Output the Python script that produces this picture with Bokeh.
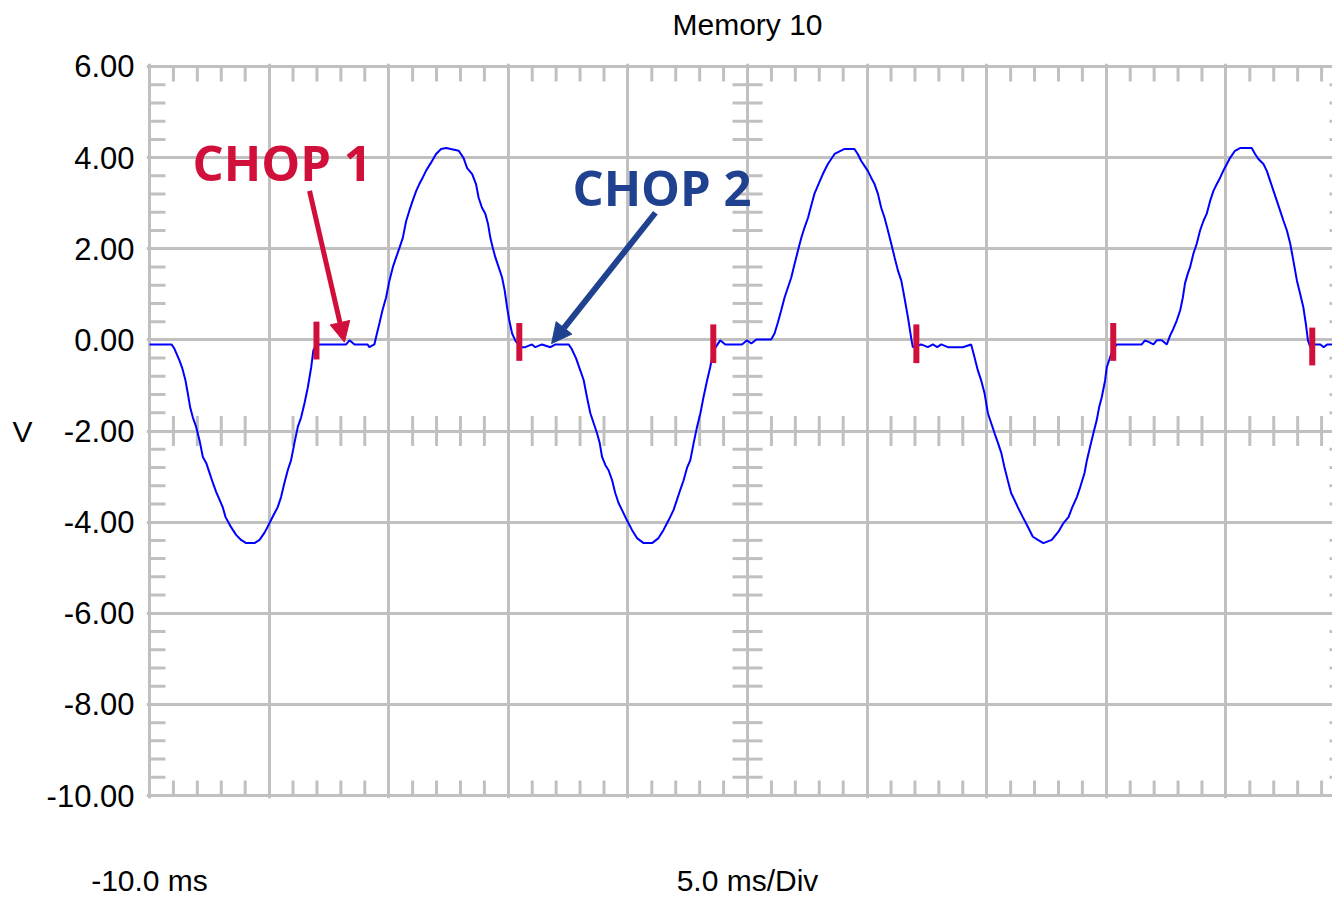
from bokeh.plotting import figure
from bokeh.models import (Range1d, FixedTicker, PrintfTickFormatter, Grid, Label,
                          Arrow, NormalHead, LinearAxis)
from bokeh.embed import file_html
from bokeh.resources import INLINE

# ---------------- data (ms, V) ----------------
time_a = [-10.00, -9.08, -8.96, -8.75, -8.63, -8.50, -8.40, -8.30, -8.19, -8.05,
          -7.91, -7.77, -7.63, -7.49, -7.35, -7.21, -7.07, -6.94, -6.82, -6.59,
          -6.38, -6.17, -5.96, -5.61, -5.40, -5.19, -5.06, -4.85, -4.64, -4.50,
          -4.36, -4.22, -4.08, -3.94, -3.80, -3.66, -3.52, -3.38, -3.24, -3.15,
          -3.03, -1.78, -1.64, -1.43, -0.88, -0.81, -0.60, -0.53, -0.39, -0.26,
          -0.11, 0.03, 0.17, 0.31, 0.45, 0.59, 0.73, 0.86, 1.00, 1.15,
          1.28, 1.42, 1.56, 1.77, 1.98, 2.19, 2.40]
volts_a = [-0.10, -0.10, -0.19, -0.45, -0.62, -0.88, -1.17, -1.48, -1.70, -1.91,
           -2.20, -2.57, -2.70, -2.92, -3.14, -3.34, -3.51, -3.67, -3.89, -4.11,
           -4.28, -4.39, -4.46, -4.46, -4.39, -4.23, -4.10, -3.88, -3.67, -3.45,
           -3.14, -2.86, -2.64, -2.26, -1.91, -1.70, -1.39, -1.04, -0.60, -0.23,
           -0.10, -0.10, -0.01, -0.10, -0.10, -0.16, -0.10, 0.06, 0.36, 0.65,
           0.93, 1.30, 1.59, 1.81, 2.02, 2.24, 2.61, 2.83, 3.05, 3.27,
           3.42, 3.56, 3.71, 3.89, 4.08, 4.19, 4.21]

time_b = [2.93, 3.13, 3.28, 3.49, 3.65, 3.76, 3.90, 4.04, 4.15, 4.25,
          4.35, 4.46, 4.60, 4.74, 4.85, 4.95, 5.04, 5.16, 5.29, 5.50,
          5.71, 5.99, 6.13, 6.41, 6.76, 6.97, 7.52, 7.64, 7.83, 8.01,
          8.15, 8.29, 8.43, 8.57, 8.71, 8.82, 8.92, 9.06, 9.19, 9.34,
          9.47, 9.61, 9.75, 9.96, 10.17, 10.38, 10.66, 11.01, 11.28, 11.49,
          11.70, 11.91, 12.05, 12.19, 12.33, 12.47, 12.61, 12.75, 12.89, 13.03,
          13.16, 13.31, 13.44, 13.58, 13.72, 13.86, 14.07, 14.77]
volts_b = [4.15, 3.99, 3.77, 3.64, 3.42, 3.12, 2.90, 2.77, 2.55, 2.24,
           2.02, 1.81, 1.59, 1.37, 1.08, 0.71, 0.43, 0.14, -0.01, -0.16,
           -0.16, -0.10, -0.16, -0.10, -0.16, -0.10, -0.10, -0.19, -0.40, -0.67,
           -0.88, -1.26, -1.61, -1.83, -2.05, -2.26, -2.57, -2.75, -2.86, -3.08,
           -3.36, -3.58, -3.73, -3.96, -4.17, -4.35, -4.46, -4.46, -4.35, -4.17,
           -3.96, -3.73, -3.51, -3.29, -3.08, -2.81, -2.64, -2.26, -1.91, -1.61,
           -1.26, -0.89, -0.60, -0.23, -0.12, -0.01, -0.10, -0.10]

time_c = [14.98, 15.16, 15.37, 15.99, 16.13, 16.27, 16.41, 16.55, 16.69, 16.83,
          16.97, 17.11, 17.25, 17.38, 17.53, 17.66, 17.80, 17.97, 18.15, 18.36,
          18.64, 19.06, 19.47, 19.61, 19.75, 19.89, 20.03, 20.17, 20.31, 20.45,
          20.59, 20.73, 20.87, 21.01, 21.15, 21.29, 21.43, 21.56, 21.71, 21.84,
          21.91, 22.26, 22.54, 22.75, 22.93, 23.10, 23.38, 24.00, 24.35, 24.49,
          24.63, 24.77, 24.91, 25.05, 25.19, 25.33, 25.47, 25.61, 25.74, 25.88,
          26.02, 26.16, 26.30, 26.51, 26.72, 26.93, 27.14]
volts_c = [-0.01, -0.08, 0.01, 0.01, 0.14, 0.38, 0.65, 0.93, 1.15, 1.37,
           1.67, 1.96, 2.24, 2.46, 2.68, 2.94, 3.21, 3.42, 3.64, 3.86,
           4.08, 4.19, 4.19, 4.08, 3.93, 3.82, 3.71, 3.56, 3.42, 3.21,
           2.90, 2.68, 2.40, 2.11, 1.81, 1.52, 1.30, 0.93, 0.49, 0.05,
           -0.16, -0.10, -0.16, -0.10, -0.16, -0.10, -0.16, -0.16, -0.10, -0.38,
           -0.67, -0.89, -1.17, -1.61, -1.83, -2.05, -2.26, -2.48, -2.79, -3.08,
           -3.36, -3.51, -3.67, -3.89, -4.10, -4.32, -4.39]

time_d = [27.37, 27.72, 28.00, 28.21, 28.42, 28.58, 28.77, 28.91, 29.09, 29.19,
          29.32, 29.46, 29.60, 29.70, 29.81, 29.95, 30.02, 30.16, 30.30, 30.44,
          31.48, 31.62, 31.79, 31.97, 32.11, 32.32, 32.53, 32.67, 32.81, 32.95,
          33.09, 33.20, 33.29, 33.41, 33.50, 33.64, 33.78, 33.92, 34.06, 34.20,
          34.34, 34.48, 34.62, 34.76, 34.89, 35.04, 35.17, 35.38, 35.59, 36.08,
          36.22, 36.36, 36.57, 36.71, 36.85, 36.99, 37.13, 37.27, 37.41, 37.55,
          37.69, 37.82, 37.97, 38.10, 38.24, 38.34, 38.43, 38.53, 38.74, 38.95,
          39.09, 39.23, 39.45]
volts_d = [-4.46, -4.39, -4.21, -4.02, -3.89, -3.67, -3.45, -3.23, -2.92, -2.64,
           -2.35, -2.05, -1.76, -1.48, -1.26, -0.89, -0.60, -0.38, -0.19, -0.10,
           -0.10, -0.01, -0.05, -0.10, -0.01, -0.01, -0.10, 0.10, 0.25, 0.43,
           0.65, 0.93, 1.24, 1.46, 1.59, 1.89, 2.11, 2.40, 2.61, 2.77,
           3.05, 3.27, 3.42, 3.56, 3.71, 3.86, 3.99, 4.15, 4.21, 4.21,
           4.08, 3.97, 3.86, 3.71, 3.49, 3.27, 3.05, 2.83, 2.61, 2.40,
           2.11, 1.74, 1.30, 1.02, 0.71, 0.36, -0.01, -0.16, -0.10, -0.10,
           -0.16, -0.10, -0.10]

# chop markers (time of the cut, span of the red tick)
chop_t = [-3.02, 5.46, 13.57, 22.06, 30.29, 38.61]
chop_top = [0.40, 0.37, 0.34, 0.34, 0.37, 0.27]
chop_bottom = [-0.43, -0.46, -0.51, -0.51, -0.46, -0.56]

y_ticks = [-10, -8, -6, -4, -2, 0, 2, 4, 6]
x_divs = [-10, -5, 0, 5, 10, 15, 20, 25, 30, 35, 40]
title_text = "Memory 10"
y_unit = "V"
x_start_label = "-10.0 ms"
x_scale_label = "5.0 ms/Div"

time_ms = time_a + time_b + time_c + time_d
volts = volts_a + volts_b + volts_c + volts_d
assert len(time_ms) == len(volts)

# ---------------- layout ----------------
PX_MS = 23.92   # pixels per ms
PX_V = 45.69    # pixels per volt
W, H = 1332, 899
ML, MT, MB = 146, 63, 99
fw = W - ML
fh = H - MT - MB
x0 = -10 - 3 / PX_MS
y1 = 6 + 3 / PX_V

GRID = "#C0C0C0"
RED = "#D0103A"
BLUE_T = "#1F418F"
FONT = "Liberation Sans"

p = figure(width=W, height=H, output_backend="svg", toolbar_location=None,
           x_axis_location=None, x_range=Range1d(x0, x0 + fw / PX_MS),
           y_range=Range1d(y1 - fh / PX_V, y1),
           min_border_left=ML, min_border_right=0, min_border_top=MT,
           min_border_bottom=MB)
p.outline_line_color = None
p.background_fill_color = "white"
p.border_fill_color = "white"
p.grid.visible = False


def style_axis(ax, size, standoff):
    ax.axis_line_color = None
    ax.major_tick_line_color = None
    ax.minor_tick_line_color = None
    ax.major_tick_out = 0
    ax.major_tick_in = 0
    ax.major_label_standoff = standoff
    ax.major_label_text_font = FONT
    ax.major_label_text_font_size = size
    ax.major_label_text_color = "black"


ax = p.yaxis[0]
ax.ticker = FixedTicker(ticks=y_ticks)
ax.formatter = PrintfTickFormatter(format="%.2f")
style_axis(ax, "31px", 12)

v_axis = LinearAxis(ticker=FixedTicker(ticks=[-2]),
                    major_label_overrides={-2: y_unit})
style_axis(v_axis, "30px", 11)
p.add_layout(v_axis, "left")

top_axis = LinearAxis(ticker=FixedTicker(ticks=[15]),
                      major_label_overrides={15: title_text})
style_axis(top_axis, "30px", 23)
p.add_layout(top_axis, "above")

bot_axis = LinearAxis(ticker=FixedTicker(ticks=[-10, 15]),
                      major_label_overrides={-10: x_start_label, 15: x_scale_label})
style_axis(bot_axis, "30px", 65)
p.add_layout(bot_axis, "below")

p.add_layout(Grid(dimension=0, ticker=FixedTicker(ticks=x_divs),
                  grid_line_color=GRID, grid_line_width=3))
p.add_layout(Grid(dimension=1, ticker=FixedTicker(ticks=y_ticks),
                  grid_line_color=GRID, grid_line_width=3))

# minor graticule ticks
minor_t = [t for t in range(-10, 41) if t % 5 != 0]
minor_v = [round(-10 + 0.4 * k, 2) for k in range(41) if k % 5 != 0]
tl = 15 / PX_V
tw = 16 / PX_MS
cw = 15 / PX_MS
xs0, xs1, ys0, ys1 = [], [], [], []
for t in minor_t:
    xs0 += [t, t, t]; xs1 += [t, t, t]
    ys0 += [6, -10, -2 - tl]; ys1 += [6 - tl, -10 + tl, -2 + tl]
for v in minor_v:
    xs0 += [-10, 40, 15 - cw]; xs1 += [-10 + tw, 40 - tw, 15 + cw]
    ys0 += [v, v, v]; ys1 += [v, v, v]
p.segment(xs0, ys0, xs1, ys1, line_color=GRID, line_width=3)

# trace
p.line(time_ms, volts, line_color="#0000FF", line_width=2)

# chop markers
p.segment(chop_t, chop_bottom, chop_t, chop_top, line_color=RED, line_width=6,
          line_cap="butt")

# annotations
p.add_layout(Arrow(end=NormalHead(size=20, fill_color=RED, line_color=RED),
                   x_start=-3.31, y_start=3.27, x_end=-1.85, y_end=-0.05,
                   line_color=RED, line_width=5))
p.add_layout(Arrow(end=NormalHead(size=20, fill_color=BLUE_T, line_color=BLUE_T),
                   x_start=11.15, y_start=2.79, x_end=6.81, y_end=-0.08,
                   line_color=BLUE_T, line_width=6))

p.add_layout(Label(x=-8.20, y=3.91, text="CHOP 1", text_color=RED,
                   text_font="Open Sans", text_font_style="bold",
                   text_font_size="49px", text_baseline="alphabetic"))
p.add_layout(Label(x=7.68, y=3.36, text="CHOP 2", text_color=BLUE_T,
                   text_font="Open Sans", text_font_style="bold",
                   text_font_size="49px", text_baseline="alphabetic"))

open("out.html", "w").write(file_html(p, INLINE))
